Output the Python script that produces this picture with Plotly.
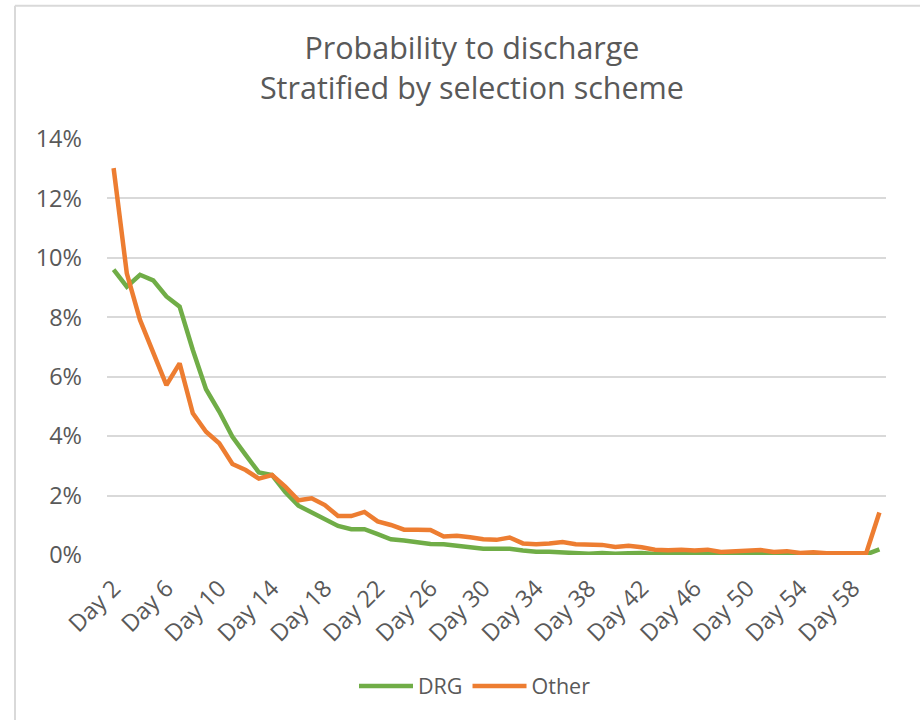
import plotly.graph_objects as go

days = [f"Day {d}" for d in range(2, 61)]
tick_days = ["Day 2", "Day 6", "Day 10", "Day 14", "Day 18", "Day 22", "Day 26",
             "Day 30", "Day 34", "Day 38", "Day 42", "Day 46", "Day 50", "Day 54", "Day 58"]

drg = [9.60, 9.03, 9.43, 9.24, 8.70, 8.36, 6.90, 5.58, 4.83, 3.98,
       3.37, 2.78, 2.69, 2.12, 1.66, 1.44, 1.20, 0.98, 0.87, 0.87,
       0.70, 0.53, 0.49, 0.44, 0.37, 0.36, 0.31, 0.24, 0.21, 0.21,
       0.21, 0.15, 0.11, 0.11, 0.08, 0.08, 0.04, 0.07, 0.04, 0.06,
       0.07, 0.03, 0.03, 0.03, 0.02, 0.02, 0.02, 0.02, 0.02, 0.02,
       0.02, 0.02, 0.02, 0.02, 0.02, 0.02, 0.02, 0.02, 0.19]

other = [13.02, 9.48, 7.91, 6.79, 5.72, 6.45, 4.77, 4.15, 3.76, 3.06,
         2.86, 2.57, 2.69, 2.30, 1.84, 1.91, 1.68, 1.31, 1.31, 1.45,
         1.13, 1.01, 0.85, 0.85, 0.84, 0.62, 0.65, 0.60, 0.53, 0.51,
         0.59, 0.39, 0.36, 0.39, 0.44, 0.36, 0.35, 0.34, 0.27, 0.31,
         0.26, 0.18, 0.16, 0.18, 0.15, 0.18, 0.10, 0.13, 0.13, 0.17,
         0.10, 0.13, 0.07, 0.09, 0.06, 0.06, 0.06, 0.06, 1.43]

FONT = "Open Sans"
GREY = "#595959"
BORDER = "#d9d9d9"

fig = go.Figure()
fig.add_trace(go.Scatter(x=days, y=drg, name="DRG", mode="lines",
                         line=dict(color="#70AD47", width=4.5)))
fig.add_trace(go.Scatter(x=days, y=other, name="Other", mode="lines",
                         line=dict(color="#ED7D31", width=4.5)))

# chart-area border (visible on the left and top edges only)
px_l, px_r, px_t, px_b = 107, 886, 138.5, 555
def px_to_paper_x(px):
    return (px - px_l) / (px_r - px_l)
def px_to_paper_y(py):
    return (px_b - py) / (px_b - px_t)

fig.update_layout(
    width=920, height=720,
    margin=dict(l=107, r=34, t=138.5, b=165, pad=0),
    paper_bgcolor="white", plot_bgcolor="white",
    font=dict(family=FONT, color=GREY),
    title=dict(text="Probability to discharge<br>Stratified by selection scheme",
               font=dict(family=FONT, size=30.5, color=GREY),
               x=0.513, xanchor="center", xref="container",
               y=1 - 59 / 720, yanchor="top", yref="container"),
    xaxis=dict(type="category", range=[-0.5, 58.5],
               tickmode="array", tickvals=tick_days, ticktext=tick_days,
               tickangle=-45, showgrid=False, showline=False, ticks="",
               ticklabelstandoff=14,
               tickfont=dict(family=FONT, size=23.5, color=GREY)),
    yaxis=dict(range=[0, 14], dtick=2, ticksuffix="%",
               showgrid=True, gridcolor=BORDER, gridwidth=2,
               zeroline=False, showline=False, ticks="",
               ticklabelstandoff=24,
               tickfont=dict(family=FONT, size=23.5, color=GREY)),
    legend=dict(orientation="h", x=475 / 920, xanchor="center", xref="container",
                y=1 - 686 / 720, yanchor="middle", yref="container",
                font=dict(family=FONT, size=21.5, color=GREY),
                itemwidth=54, bgcolor="rgba(0,0,0,0)"),
    showlegend=True,
    shapes=[
        dict(type="line", xref="paper", yref="paper",
             x0=px_to_paper_x(15), x1=px_to_paper_x(925),
             y0=px_to_paper_y(5), y1=px_to_paper_y(5),
             line=dict(color=BORDER, width=2)),
        dict(type="line", xref="paper", yref="paper",
             x0=px_to_paper_x(15), x1=px_to_paper_x(15),
             y0=px_to_paper_y(5), y1=px_to_paper_y(725),
             line=dict(color=BORDER, width=2)),
    ],
)

fig.write_html("out.html")
